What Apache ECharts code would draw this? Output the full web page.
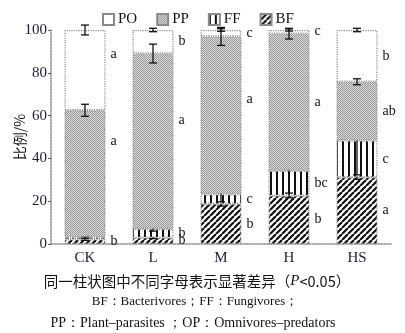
<!DOCTYPE html>
<html>
<head>
<meta charset="utf-8">
<script src="https://cdn.jsdelivr.net/npm/echarts@6/dist/echarts.min.js"></script>
<style>
  html, body { margin: 0; padding: 0; background: #fff; }
  #chart { width: 405px; height: 333px; }
</style>
</head>
<body>
<div id="chart"></div>
<script>
// Treatments
const categories = ['CK', 'L', 'M', 'H', 'HS'];

// Relative abundance (%) of each nematode trophic group, bottom to top of the stack
const bfValues = [2.2, 3.0, 18.7, 22.6, 31.2];   // Bacterivores
const ffValues = [1.0, 4.0, 4.5, 11.6, 17.1];    // Fungivores
const ppValues = [59.3, 82.0, 73.8, 64.1, 27.5]; // Plant-parasites
const poValues = [37.5, 11.0, 3.0, 1.7, 24.2];   // Omnivores-predators

// Standard errors
const bfErr = [0.5, 0.5, 1.0, 1.0, 1.0];
const ffErr = [0.5, 1.0, 3.5, 10.4, 16.0];
const ppErr = [2.8, 4.4, 4.2, 2.5, 1.4];
const poErr = [2.3, 0.8, 0.6, 0.5, 0.8];

// Significance letters
const bfLetters = ['b', 'b', 'b', 'b', 'a'];
const ffLetters = ['', 'b', 'c', 'bc', 'c'];
const ppLetters = ['a', 'a', 'a', 'a', 'ab'];
const poLetters = ['a', 'b', 'c', 'c', 'b'];

// Y axis ticks
const yTicks = [0, 20, 40, 60, 80, 100];

// ---- fill patterns ----
function makeTile(w, h, draw) {
  const c = document.createElement('canvas');
  c.width = w; c.height = h;
  draw(c.getContext('2d'), w, h);
  return c;
}
const checkerTile = makeTile(2, 2, (g) => {
  g.fillStyle = '#d8d8d8'; g.fillRect(0, 0, 2, 2);
  g.fillStyle = '#9c9c9c'; g.fillRect(0, 0, 1, 1); g.fillRect(1, 1, 1, 1);
});
const stripeTile = makeTile(6, 6, (g) => {
  g.fillStyle = '#fff'; g.fillRect(0, 0, 6, 6);
  g.fillStyle = '#111'; g.fillRect(0, 0, 2, 6);
});
const hatchTile = makeTile(6, 6, (g, w, h) => {
  g.fillStyle = '#fff'; g.fillRect(0, 0, w, h);
  g.strokeStyle = '#111'; g.lineWidth = 2.2;
  for (const o of [-w, 0, w]) {
    g.beginPath(); g.moveTo(o, h); g.lineTo(o + w, 0); g.stroke();
  }
});

const serif = '"Liberation Serif", "DejaVu Serif", serif';
const cjk = '"Noto Sans CJK SC", "Liberation Serif", sans-serif';

// Label nudges (px) for letters that sit above their segment's middle
const letterNudge = { PO: { CK: -16 }, PP: { CK: -32, L: -21, M: -16 } };

const layers = [
  { name: 'BF', values: bfValues, errs: bfErr, letters: bfLetters, fill: { image: hatchTile, repeat: 'repeat' }, z: 1, ez: 2 },
  { name: 'FF', values: ffValues, errs: ffErr, letters: ffLetters, fill: { image: stripeTile, repeat: 'repeat' }, z: 3, ez: 4 },
  { name: 'PP', values: ppValues, errs: ppErr, letters: ppLetters, fill: { image: checkerTile, repeat: 'repeat' }, z: 5, ez: 7 },
  { name: 'PO', values: poValues, errs: poErr, letters: poLetters, fill: '#ffffff', z: 6, ez: 8 }
];

const series = [];
const running = categories.map(() => 0);
layers.forEach((layer) => {
  const nudge = letterNudge[layer.name] || {};
  series.push({
    type: 'bar',
    name: layer.name,
    stack: 'total',
    barWidth: 41,
    z: layer.z,
    itemStyle: {
      color: layer.fill,
      borderColor: '#8a8a8a',
      borderWidth: 1.2,
      borderType: 'dotted'
    },
    label: {
      show: true,
      position: 'right',
      distance: 5,
      color: '#111',
      fontFamily: serif,
      fontSize: 14,
      formatter: (p) => layer.letters[p.dataIndex]
    },
    data: layer.values.map((v, i) => {
      const item = { value: v };
      if (nudge[categories[i]]) item.label = { offset: [0, nudge[categories[i]]] };
      return item;
    })
  });
  // error bars at the top of this segment
  const tops = layer.values.map((v, i) => running[i] + v);
  tops.forEach((t, i) => { running[i] = t; });
  series.push({
    type: 'custom',
    name: layer.name + ' SE',
    z: layer.ez,
    silent: true,
    encode: { x: 0, y: 1 },
    data: tops.map((t, i) => [i, t, layer.errs[i]]),
    renderItem: (params, api) => {
      const x = api.value(0), top = api.value(1), e = api.value(2);
      const hi = api.coord([x, top + e]);
      const lo = api.coord([x, top - e]);
      const cap = 4;
      const st = { stroke: '#111', lineWidth: 1.3 };
      return {
        type: 'group',
        children: [
          { type: 'line', shape: { x1: hi[0], y1: hi[1], x2: lo[0], y2: lo[1] }, style: st },
          { type: 'line', shape: { x1: hi[0] - cap, y1: hi[1], x2: hi[0] + cap, y2: hi[1] }, style: st },
          { type: 'line', shape: { x1: lo[0] - cap, y1: lo[1], x2: lo[0] + cap, y2: lo[1] }, style: st }
        ]
      };
    }
  });
});

const chart = echarts.init(document.getElementById('chart'), null, { renderer: 'canvas' });
chart.setOption({
  animation: false,
  backgroundColor: '#fff',
  legend: {
    data: ['PO', 'PP', 'FF', 'BF'],
    top: 7,
    left: 97,
    itemWidth: 11,
    itemHeight: 11,
    itemGap: 19,
    icon: 'rect',
    textStyle: { fontFamily: serif, fontSize: 15, color: '#111', padding: [0, 0, 0, -1] }
  },
  grid: { left: 51, right: 14, top: 30, bottom: 89, containLabel: false, outerBoundsMode: 'none' },
  xAxis: {
    type: 'category',
    data: categories,
    axisLine: { show: true, lineStyle: { color: '#8a8a8a', width: 1.5, type: 'dotted' } },
    axisTick: { show: false },
    splitLine: { show: false },
    axisLabel: {
      fontFamily: serif,
      fontSize: 15,
      color: '#1c1c38',
      margin: 7
    }
  },
  yAxis: {
    type: 'value',
    min: yTicks[0],
    max: yTicks[yTicks.length - 1],
    interval: 20,
    name: '比例/%',
    nameLocation: 'middle',
    nameRotate: 90,
    nameGap: 24,
    nameMoveOverlap: false,
    nameTextStyle: { fontFamily: cjk, fontSize: 14, color: '#111' },
    axisLine: { show: true, lineStyle: { color: '#8a8a8a', width: 1.5, type: 'dotted' } },
    axisTick: { show: true, inside: false, length: 3, lineStyle: { color: '#555' } },
    splitLine: { show: false },
    axisLabel: { fontFamily: serif, fontSize: 15, color: '#1c1c38', margin: 4 }
  },
  graphic: [
    {
      type: 'text', x: 197, y: 281,
      style: {
        text: '同一柱状图中不同字母表示显著差异（{i|P}<0.05）',
        font: '14.5px ' + cjk,
        fill: '#111',
        align: 'center', verticalAlign: 'middle',
        rich: { i: { fontFamily: serif, fontStyle: 'italic', fontSize: 15, fill: '#111' } }
      }
    },
    {
      type: 'text', x: 195, y: 302,
      style: {
        text: 'BF：Bacterivores；FF：Fungivores；',
        font: '13px ' + serif,
        fill: '#111',
        align: 'center', verticalAlign: 'middle'
      }
    },
    {
      type: 'text', x: 193, y: 323,
      style: {
        text: 'PP：Plant–parasites ；OP：Omnivores–predators',
        font: '14px ' + serif,
        fill: '#111',
        align: 'center', verticalAlign: 'middle'
      }
    }
  ],
  series: series
});
</script>
</body>
</html>
